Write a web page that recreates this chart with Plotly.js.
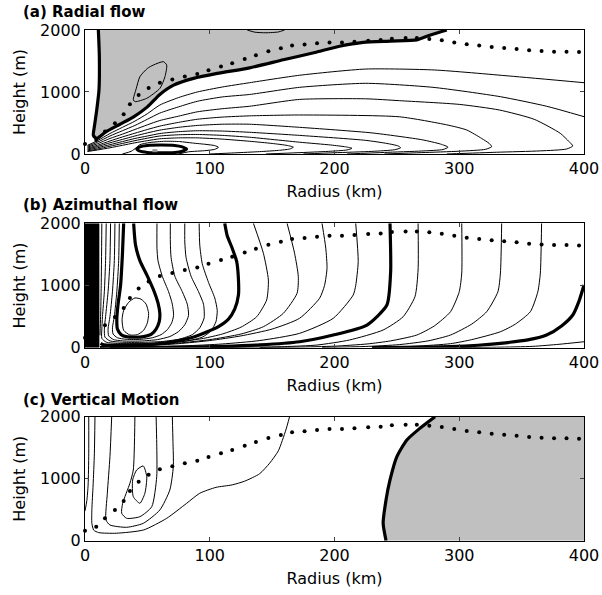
<!DOCTYPE html>
<html><head><meta charset="utf-8">
<script src="https://cdn.plot.ly/plotly-3.0.1.min.js"></script>
<style>html,body{margin:0;padding:0;background:#fff}#chart{width:602px;height:595px}</style>
</head><body><div id="chart"></div>
<script>
// ---------- shared: dotted line (same in all panels) ----------
const dotRadius = [0,9,16,24,31,36,43,51,60,70,80,90,99,109,118,128,137,147,157,166,176,186,196,206,216,227,237,246,257,266,276,286,296,306,316,326,336,346,356,366,376,386,396];
const dotHeight = [161,226,361,495,640,801,952,1065,1151,1200,1248,1290,1350,1410,1463,1532,1592,1656,1705,1748,1764,1785,1800,1800,1812,1828,1838,1860,1870,1870,1855,1834,1800,1769,1748,1726,1710,1694,1673,1661,1651,1651,1645];

const xTicks = [0,100,200,300,400];
const yTicks = [0,1000,2000];
const panelTitles = ['(a) Radial flow','(b) Azimuthal flow','(c) Vertical Motion'];

// ---------- panel (a): radial flow contours [radius km, height m] ----------
const aZero = [[10.7,2000],[11.5,1570],[11.2,1030],[9.4,710],[7.5,440],[6.7,300],[9.4,250],[17,360],[28,480],[39,600],[50,760],[60,960],[71,1110],[87,1220],[106,1300],[132,1390],[159,1520],[186,1645],[204,1737],[223,1800],[245,1820],[266,1840],[277,1920],[290,2000]];
const aUpperLoop = [[38.7,871],[41,1050],[44,1247],[50,1380],[54.8,1435],[62.8,1489],[65.5,1435],[64.1,1247],[60.1,1060],[49.5,898],[40.3,844],[38.7,871]];
const aTopArc = [[130,2000],[136,1965],[145,1955],[155,1968],[160,2000]];
const aSurfaceCell = [[41.5,80],[44,115],[50,138],[61,145],[72,138],[78,115],[81.5,80],[78,45],[72,25],[61,18],[50,25],[44,45],[41.5,80]];
const aSurfaceCore = [[54,53],[58,53]];
const aL1 = [[2,140],[10,215],[20,330],[30,430],[40,530],[50,650],[60,790],[75,910],[90,1000],[110,1080],[132,1150],[172,1270],[225,1370],[280,1355],[340,1258],[400,1150]];
const aL2 = [[2,125],[10,190],[20,290],[30,375],[40,460],[50,560],[60,660],[75,760],[90,850],[110,920],[132,960],[172,1075],[225,1140],[279,1075],[333,924],[370,770],[400,602]];
const aL3 = [[2,110],[10,165],[20,250],[30,320],[40,395],[50,470],[60,540],[75,610],[90,680],[110,730],[132,770],[172,880],[225,890],[252,860],[300,800],[332,710],[360,560],[381,333],[388,200],[391,130],[386,80],[365,50],[330,28],[290,0]];
const aL4 = [[2,95],[10,140],[20,210],[30,275],[40,335],[50,395],[60,450],[75,510],[90,560],[110,595],[132,615],[172,629],[252,600],[290,470],[306,387],[318,250],[324,170],[326,118],[321,75],[300,45],[270,22],[240,0]];
const aL5 = [[2,80],[10,120],[20,180],[30,235],[40,290],[50,340],[60,385],[75,430],[90,460],[110,480],[132,480],[172,430],[230,340],[270,230],[285,160],[291,110],[287,72],[270,48],[240,25],[210,0]];
const aL6 = [[2,65],[10,100],[20,150],[30,200],[40,250],[50,290],[60,330],[75,360],[90,375],[110,370],[132,350],[172,300],[225,220],[242,170],[251,130],[253,100],[248,68],[230,42],[200,20],[175,0]];
const aL7 = [[2,50],[10,80],[20,125],[30,170],[40,215],[50,255],[60,290],[75,310],[90,315],[110,300],[132,270],[172,190],[197,145],[209,115],[214,92],[210,65],[195,42],[170,20],[145,0]];
const aL8 = [[2,40],[10,65],[20,100],[30,140],[40,180],[50,215],[60,245],[75,260],[90,260],[110,240],[132,205],[150,170],[162,138],[167,110],[164,80],[155,58],[140,38],[120,18],[100,0]];
const aL9 = [[30,0],[37,43],[41,100],[44,150],[52,185],[64,205],[76,200],[86,177],[97,155],[104,135],[107,108],[104,75],[97,55],[83,35],[75,0]];

// ---------- panel (b): azimuthal flow contours ----------
const bDenseCore = [[0,0],[11.5,0],[11.5,2000],[0,2000]];
const bInnerMax = [[29.7,450],[31,600],[35,730],[40,800],[45,780],[49,700],[51,550],[50,400],[47,280],[42,210],[36,205],[31,280],[29.7,450]];
const bThick1 = [[31,2000],[30,1500],[28.5,1000],[26.5,700],[25.5,450],[26,300],[29,210],[34,175],[40,168],[47,178],[53,215],[57,300],[59.5,420],[60,550],[58.5,720],[55.5,900],[50,1150],[44,1400],[40.5,1650],[39,2000]];
const bU1 = [[27.5,2000],[27,1400],[25.5,900],[23.5,500],[22,320],[22.5,220],[26,160],[33,135],[45,135],[54,160],[61,210],[66,290],[69.5,400],[71,520],[70,700],[67,900],[62,1146],[58.5,1400],[57.7,1600],[57.7,2000]];
const bU2 = [[24,2000],[23.5,1400],[22,900],[20,500],[18.5,300],[19,190],[23,130],[32,108],[45,108],[58,130],[68,180],[75,260],[80,370],[83,520],[82,700],[78,900],[72,1150],[69,1450],[68.4,1700],[68.4,2000]];
const bU3 = [[20.5,2000],[20,1400],[18.5,900],[16.5,500],[15.5,300],[16,170],[20,110],[30,88],[45,86],[62,100],[76,140],[86,210],[92,320],[95.5,480],[95,700],[91,900],[85,1150],[81,1450],[80,1700],[80,2000]];
const bU4 = [[17,2000],[16.5,1400],[15.5,900],[14,500],[13.5,300],[13.5,150],[17,90],[27,68],[45,65],[65,75],[82,110],[94,170],[101,270],[105,420],[106,600],[104,800],[99,1050],[94,1350],[92,1650],[91.5,2000]];
const bL5 = [[13.5,2000],[13,1000],[12.5,500],[12,200]];
const bThick2 = [[112,2000],[114,1800],[118,1600],[121.6,1383],[123,1100],[123,847],[120,620],[115,460],[107,340],[97,250],[85,160],[70,95],[55,60],[40,45],[25,40],[15,45],[12.5,70]];
const bL136 = [[135,2000],[143,1518],[147,1088],[145.6,767],[137.6,498],[125,330],[110,220],[95,150],[80,105],[60,62],[40,35],[25,24],[12,20]];
const bL162 = [[162,2000],[168,1518],[171,1141],[170,875],[159,553],[143,338],[125,220],[100,130],[75,75],[50,40],[30,22],[12,15]];
const bL190 = [[190,2000],[193,1600],[194,1277],[192,1000],[188,794],[172,473],[150,300],[125,190],[100,115],[75,65],[50,33],[30,18],[12,10]];
const bL218 = [[217,2000],[219,1383],[217,1000],[215,847],[199,473],[172,231],[140,115],[110,60],[80,30],[50,14],[25,7],[12,5]];
const bThick3 = [[244.5,2000],[245,1222],[242,686],[226,365],[199,204],[172,96],[140,45],[110,22],[80,10],[50,4],[20,2]];
const bL267 = [[267,2000],[267,1250],[264.5,820],[255,498],[239,285],[212,124],[186,43],[160,18],[130,8],[100,3]];
const bL302 = [[302,2000],[302,1200],[300,900],[293,579],[280,350],[266,204],[245,110],[226,60],[200,25],[170,10],[140,3]];
const bL334 = [[334,2000],[333,1200],[331,900],[322,579],[310,380],[293,204],[275,110],[252,50],[225,20],[190,6]];
const bL366 = [[366,2000],[365,1200],[363,900],[357,579],[345,380],[333,257],[310,130],[293,65],[265,25],[230,8]];
const bThick4 = [[400,1008],[396,750],[391,526],[382,350],[370,204],[355,125],[333,71],[315,40],[293,18],[260,5],[230,0]];
const bBottom = [[400,96],[380,55],[359,22],[330,8],[300,2]];

// ---------- panel (c): vertical motion contours ----------
const cNearAxis = [[3,2000],[3,1400],[2.5,900],[1.5,650],[0,480]];
const cOuter = [[8,2000],[7.5,1400],[6.5,900],[5.5,500],[5.5,280],[7,170],[11,130],[25,120],[47,173],[65.5,361],[81.5,603],[92,765],[105,860],[118,900],[128,960],[140,1080],[148,1250],[155,1450],[161,1785],[164,2000]];
const cLoop2 = [[21.4,2000],[20,1355],[17.9,765],[16.8,334],[20,253],[33.4,216],[46.7,280],[60,495],[68,818],[70.8,1194],[70.5,1600],[70,2000]];
const cLoop3 = [[40,2000],[38.7,1140],[36,926],[30.2,603],[29.4,442],[33.4,361],[44,387],[53.5,548],[57.5,1032],[57.5,1570],[57,2000]];
const cMax = [[46.7,1205],[49.5,1032],[48,765],[44,603],[38.7,710],[38.2,979],[41.4,1140],[46.7,1205]];
const cZero = [[241.3,0],[239,280],[241.3,656],[244.5,979],[250,1355],[258,1624],[268.5,1813],[280.6,2000]];

// ---------- build ----------
const GRAY = 'rgb(192,192,192)';
const traces = [];
const col = (p,i) => p.map(q => q[i]);
function line(pts, n, w, c) {
  traces.push({type:'scatter', mode:'lines', x:col(pts,0), y:col(pts,1), xaxis:'x'+n, yaxis:'y'+n,
    line:{color:c||'black', width:w, shape:'spline', smoothing:0.6}, hoverinfo:'skip', showlegend:false});
}
function fill(pts, n, c) {
  traces.push({type:'scatter', mode:'lines', x:col(pts,0), y:col(pts,1), xaxis:'x'+n, yaxis:'y'+n,
    fill:'toself', fillcolor:c, line:{width:0, color:c}, hoverinfo:'skip', showlegend:false});
}
function dots(n) {
  traces.push({type:'scatter', mode:'markers', x:dotRadius, y:dotHeight, xaxis:'x'+n, yaxis:'y'+n,
    marker:{color:'black', size:4}, hoverinfo:'skip', showlegend:false, cliponaxis:false});
}
// panel a  (axis suffix '' for first)
fill(aZero.concat([[10.7,2000]]), '', GRAY);
[aL1,aL2,aL3,aL4,aL5,aL6,aL7,aL8,aL9].forEach(p => line(p,'',1));
line(aUpperLoop,'',1); line(aTopArc,'',1);
line(aSurfaceCell,'',3); line(aSurfaceCore,'',3,'rgb(150,150,150)');
line(aZero,'',3.2);
dots('');
// panel b
fill(bDenseCore,'2','black');
[bU1,bU2,bU3,bU4,bL5,bL136,bL162,bL190,bL218,bL267,bL302,bL334,bL366,bBottom,bInnerMax].forEach(p => line(p,'2',1));
[bThick1,bThick2,bThick3,bThick4].forEach(p => line(p,'2',3.2));
dots('2');
// panel c
fill(cZero.concat([[400,2000],[400,0]]),'3',GRAY);
[cNearAxis,cOuter,cLoop2,cLoop3,cMax].forEach(p => line(p,'3',1));
line(cZero,'3',3.2);
dots('3');

const FONT = 'DejaVu Sans, Arial, sans-serif';
function xax(anchor){ return {domain:[0.1412,0.9701], anchor:anchor, range:[0,400], tickvals:xTicks, ticks:'inside', ticklen:4,
  showline:true, linecolor:'black', linewidth:1, mirror:'ticks', showgrid:false, zeroline:false,
  tickfont:{family:FONT,size:16,color:'black'}, title:{text:'Radius (km)', font:{family:FONT,size:16,color:'black'}, standoff:8}}; }
function yax(anchor, dom){ return {domain:dom, anchor:anchor, range:[0,2000], tickvals:yTicks, ticks:'inside', ticklen:4,
  showline:true, linecolor:'black', linewidth:1, mirror:'ticks', showgrid:false, zeroline:false,
  tickfont:{family:FONT,size:16,color:'black'}, title:{text:'Height (m)', font:{family:FONT,size:16,color:'black'}, standoff:10}}; }

const titleY = [11.5, 205, 400];
const layout = {
  width:602, height:595, margin:{l:0,r:0,t:0,b:0}, paper_bgcolor:'white', plot_bgcolor:'white', showlegend:false,
  xaxis:xax('y'), yaxis:yax('x',[0.7412,0.9496]),
  xaxis2:xax('y2'), yaxis2:yax('x2',[0.4156,0.6247]),
  xaxis3:xax('y3'), yaxis3:yax('x3',[0.0913,0.2997]),
  annotations: panelTitles.map((t,i) => ({text:t, xref:'paper', yref:'paper', x:21/602, y:1-titleY[i]/595,
    xanchor:'left', yanchor:'middle', showarrow:false, font:{family:FONT, size:15, color:'black', weight:'bold'}}))
};
Plotly.newPlot('chart', traces, layout, {staticPlot:true, displayModeBar:false});
</script></body></html>
